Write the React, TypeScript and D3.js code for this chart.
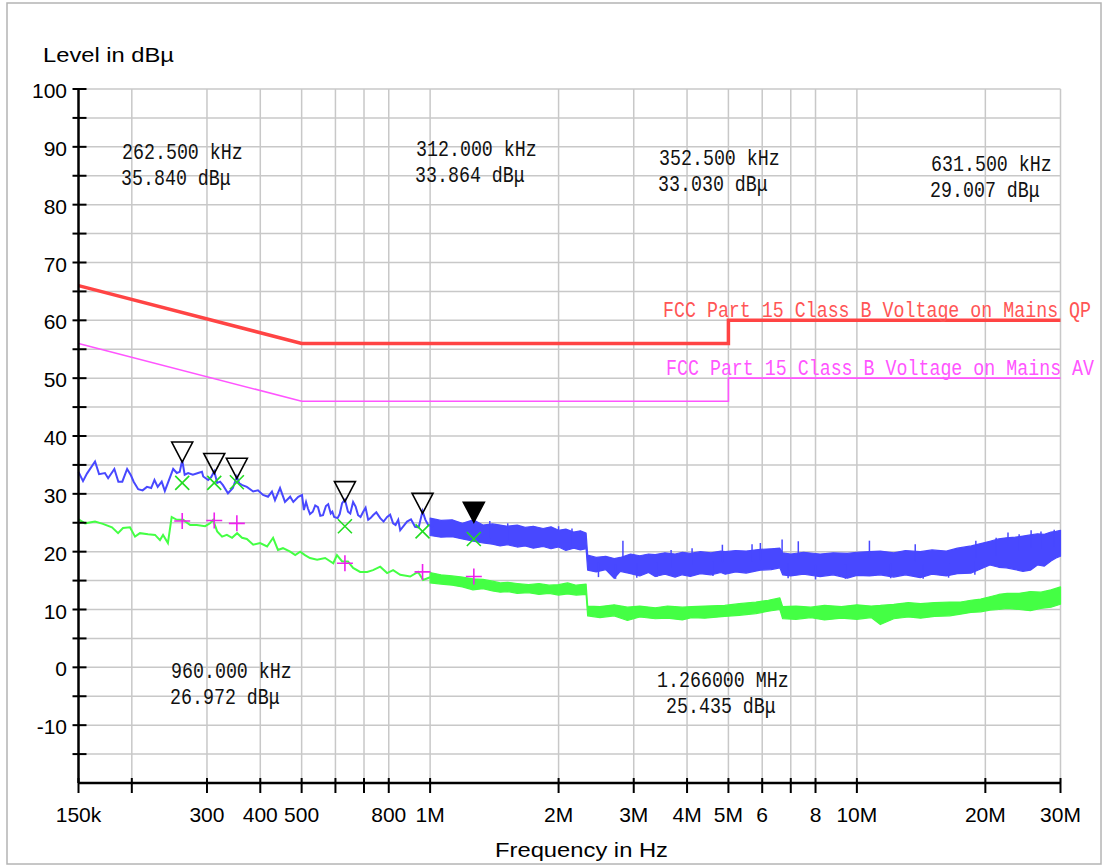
import React from 'react';
import * as d3 from 'd3';

// frequency in MHz, level in dBµV
const freqTicks = [0.15, 0.2, 0.3, 0.4, 0.5, 0.6, 0.7, 0.8, 1, 2, 3, 4, 5, 6, 7, 8, 10, 20, 30];
const freqTickLabels = ['150k', '', '300', '400', '500', '', '', '800', '1M', '2M', '3M', '4M', '5M', '6', '', '8', '10M', '20M', '30M'];
const levelTicks = [-15, -10, -5, 0, 5, 10, 15, 20, 25, 30, 35, 40, 45, 50, 55, 60, 65, 70, 75, 80, 85, 90, 95, 100];

const limitQP: [number, number][] = [[0.15, 66], [0.5, 56], [5, 56], [5, 60], [30, 60]];
const limitAV: [number, number][] = [[0.15, 56], [0.5, 46], [5, 46], [5, 50], [30, 50]];

// peak detector trace (blue), low-frequency part
const peakLine: [number, number][] = [
  [0.15, 33.8], [0.1537, 32.2], [0.157, 33.5], [0.164, 35.6], [0.1676, 33.4], [0.173, 33.6], [0.176, 32.7],
  [0.182, 34.3], [0.186, 32.1], [0.19, 32.1], [0.195, 34.3], [0.199, 33.2], [0.202, 32.1], [0.207, 30.8],
  [0.212, 30.6], [0.217, 31.2], [0.222, 31.0], [0.226, 32.4], [0.23, 31.2], [0.235, 32.1], [0.239, 30.5],
  [0.243, 31.9], [0.25, 34.3], [0.255, 33.6], [0.259, 33.8], [0.2625, 35.8], [0.266, 33.3], [0.271, 33.6],
  [0.278, 33.3], [0.286, 33.6], [0.292, 33.8], [0.294, 33.0], [0.302, 32.4], [0.307, 32.9], [0.312, 33.9],
  [0.317, 31.9], [0.322, 32.1], [0.327, 31.5], [0.336, 30.1], [0.345, 31.0], [0.3525, 33.0], [0.357, 31.8],
  [0.363, 31.5], [0.372, 31.2], [0.385, 30.4], [0.395, 30.6], [0.406, 29.8], [0.417, 29.5], [0.426, 30.4],
  [0.433, 28.9], [0.445, 31.0], [0.457, 28.6], [0.47, 29.5], [0.478, 28.6], [0.491, 29.5], [0.501, 29.8],
  [0.506, 27.2], [0.512, 28.6], [0.517, 27.5], [0.523, 26.5], [0.531, 26.9], [0.538, 28.0], [0.546, 27.7],
  [0.553, 26.2], [0.561, 26.3], [0.57, 27.9], [0.577, 28.2], [0.585, 26.6], [0.59, 26.9], [0.596, 26.0],
  [0.607, 25.8], [0.614, 26.5], [0.622, 28.4], [0.6315, 29.0], [0.642, 26.9], [0.65, 26.6], [0.66, 28.6],
  [0.669, 27.8], [0.678, 26.3], [0.687, 26.0], [0.697, 26.9], [0.706, 27.6], [0.716, 25.5], [0.725, 25.8],
  [0.735, 26.3], [0.748, 26.8], [0.764, 25.8], [0.778, 25.2], [0.793, 26.0], [0.806, 26.4], [0.819, 24.9],
  [0.83, 24.6], [0.842, 25.5], [0.851, 23.7], [0.866, 24.4], [0.883, 25.2], [0.902, 25.6], [0.922, 24.3],
  [0.94, 24.2], [0.96, 27.0], [0.975, 25.5], [0.99, 24.6], [1.016, 24.3],
];

// dense part of the blue trace: [freq, low edge, high edge]
const peakBand: [number, number, number][] = [
  [1.0, 22.8, 25.8], [1.06, 22.5, 25.4], [1.126, 22.6, 25.5], [1.19, 22.2, 24.9], [1.262, 21.8, 25.5],
  [1.33, 21.5, 24.6], [1.4, 21.3, 24.8], [1.459, 21.0, 24.6], [1.52, 21.2, 24.4], [1.6, 20.8, 24.6],
  [1.67, 21.0, 24.2], [1.745, 20.6, 24.4], [1.84, 20.9, 24.0], [1.92, 20.5, 24.3], [2.0, 20.8, 23.7],
  [2.08, 20.2, 23.9], [2.17, 20.6, 23.4], [2.25, 20.3, 23.6], [2.32, 20.5, 23.2], [2.34, 16.8, 19.4],
  [2.45, 16.5, 19.0], [2.58, 16.9, 19.2], [2.7, 15.4, 18.8], [2.79, 16.6, 19.0], [2.95, 16.2, 19.6],
  [3.1, 15.8, 19.3], [3.25, 16.4, 19.6], [3.368, 15.7, 19.5], [3.55, 16.1, 19.8], [3.75, 15.6, 19.6],
  [3.9, 16.0, 19.9], [4.07, 15.7, 19.7], [4.3, 16.2, 20.0], [4.55, 16.0, 19.8], [4.8, 16.4, 20.1],
  [4.915, 16.1, 20.0], [5.2, 16.5, 20.2], [5.5, 16.3, 20.1], [5.939, 16.8, 20.4], [6.3, 16.9, 20.5],
  [6.6, 17.2, 20.6], [6.7, 16.0, 19.8], [7.0, 15.8, 19.6], [7.5, 16.1, 19.9], [8.2, 15.7, 19.6],
  [8.8, 16.0, 19.8], [9.5, 15.4, 19.7], [10.0, 15.9, 19.9], [10.7, 15.8, 20.0], [11.35, 16.0, 20.1],
  [12.2, 15.6, 19.8], [13.0, 16.0, 20.2], [14.08, 15.5, 20.0], [15.0, 16.1, 20.3], [16.2, 15.8, 20.1],
  [17.2, 16.2, 20.6], [18.54, 16.3, 21.0], [19.5, 17.0, 21.4], [20.5, 17.7, 21.8], [21.5, 17.3, 22.2],
  [22.4, 17.2, 22.4], [23.5, 16.9, 22.5], [24.5, 16.6, 22.7], [25.5, 16.8, 22.9], [26.5, 17.7, 23.1],
  [27.5, 17.5, 23.0], [28.5, 18.4, 23.4], [29.3, 18.9, 23.5], [30, 19.2, 23.7],
];

const peakSpikes: [number, number][] = [
  [1.38, 25.3], [1.52, 24.9], [2.0, 24.4], [2.15, 24.0], [2.83, 21.9], [3.67, 20.3], [4.11, 20.6],
  [4.84, 21.2], [5.68, 21.3], [5.94, 21.5], [6.68, 22.1], [7.29, 21.8], [10.7, 21.9], [13.7, 21.3],
  [19.0, 21.9], [21.2, 22.4], [22.6, 23.3], [24.0, 23.0], [25.6, 23.7], [27.0, 23.5], [29.0, 23.8],
];
const peakDips: [number, number][] = [
  [2.48, 15.6], [2.72, 15.3], [3.05, 15.5], [3.4, 15.6], [4.6, 15.8], [6.9, 15.4], [8.0, 15.2],
  [9.4, 15.3], [12.0, 15.4], [14.3, 15.3], [16.4, 15.5], [18.9, 16.0],
];

// average detector trace (green)
const avgLine: [number, number][] = [
  [0.15, 25.6], [0.1554, 24.9], [0.164, 25.2], [0.1711, 24.8], [0.1797, 24.2], [0.1857, 23.2], [0.1907, 24.1],
  [0.198, 24.2], [0.2035, 22.6], [0.209, 23.2], [0.2183, 23.0], [0.2267, 22.9], [0.2328, 22.0], [0.2367, 22.9],
  [0.243, 21.5], [0.248, 26.0], [0.255, 25.5], [0.264, 25.5], [0.274, 24.6], [0.284, 24.6], [0.297, 24.4],
  [0.305, 24.9], [0.31, 25.5], [0.317, 23.5], [0.3255, 22.6], [0.334, 22.9], [0.3435, 22.4], [0.353, 23.2],
  [0.3625, 22.4], [0.372, 22.2], [0.385, 21.2], [0.3996, 21.5], [0.415, 20.9], [0.4286, 22.4], [0.44, 20.3],
  [0.452, 20.6], [0.47, 20.0], [0.483, 19.4], [0.496, 20.0], [0.509, 19.4], [0.523, 18.9], [0.5435, 18.6],
  [0.5675, 18.9], [0.593, 18.0], [0.605, 19.4], [0.622, 18.3], [0.642, 18.3], [0.66, 17.2], [0.6855, 16.5],
  [0.712, 16.5], [0.735, 16.8], [0.764, 17.4], [0.793, 16.3], [0.819, 16.8], [0.851, 16.0], [0.898, 15.7],
  [0.937, 16.5], [0.963, 15.1], [1.011, 15.7],
];

const avgBand: [number, number, number][] = [
  [1.0, 14.6, 16.4], [1.06, 14.4, 16.0], [1.126, 14.2, 15.8], [1.19, 13.9, 15.6], [1.26, 13.4, 15.3],
  [1.33, 13.6, 15.2], [1.4, 13.2, 14.9], [1.46, 13.0, 14.6], [1.52, 13.1, 14.7], [1.6, 12.8, 14.5],
  [1.7, 12.9, 14.3], [1.8, 12.6, 14.5], [1.9, 12.8, 14.2], [2.0, 12.5, 14.3], [2.1, 12.7, 14.6],
  [2.2, 12.5, 14.2], [2.32, 12.6, 14.4], [2.34, 8.9, 10.6], [2.5, 8.6, 10.5], [2.7, 8.9, 10.8],
  [2.9, 8.1, 10.4], [3.1, 8.7, 10.6], [3.37, 8.4, 10.3], [3.6, 8.5, 10.6], [3.9, 8.2, 10.4],
  [4.1, 8.6, 10.5], [4.4, 8.5, 10.6], [4.9, 8.8, 10.7], [5.3, 9.0, 11.0], [5.8, 9.3, 11.3],
  [6.2, 9.7, 11.6], [6.6, 10.0, 12.0], [6.7, 8.4, 10.5], [7.2, 8.3, 10.6], [7.8, 8.6, 10.4],
  [8.4, 8.2, 10.7], [9.2, 8.5, 10.5], [10.0, 8.3, 10.8], [10.8, 8.6, 10.6], [11.35, 7.4, 10.7],
  [12.2, 8.4, 10.9], [13.2, 8.7, 11.2], [14.1, 8.5, 11.0], [15.2, 8.8, 11.2], [16.5, 8.9, 11.3],
  [17.5, 9.2, 11.3], [18.5, 9.5, 11.6], [19.5, 9.6, 11.8], [20.5, 9.9, 12.2], [21.5, 10.0, 12.6],
  [22.5, 10.2, 12.8], [24.0, 10.0, 12.8], [25.5, 9.8, 13.1], [27, 10.2, 13.0], [28.5, 10.4, 13.4],
  [30, 10.9, 13.9],
];

// final measurement results
const markerFreqs = [0.2625, 0.312, 0.3525, 0.6315, 0.96, 1.266];
const markerPeaks = [35.84, 33.864, 33.03, 29.007, 26.972, 25.435];
const qpFinal = [31.9, 31.9, 32.0, 24.4, 23.5, 22.2];
const avFinal = [25.3, 25.4, 24.9, 18.0, 16.5, 15.7];

const notePos: [number, number][] = [[122, 159], [416, 156], [659, 165], [931, 171], [171, 678], [657, 687]];

const sans = '"Liberation Sans", Arial, sans-serif';
const mono = '"Liberation Mono", "Courier New", monospace';

const x = d3.scaleLog().domain([0.15, 30]).range([78.5, 1060.5]);
const y = d3.scaleLinear().domain([-20, 100]).range([783, 89]);

const fmtFreq = (f: number) => (f < 1 ? `${(f * 1000).toFixed(3)} kHz` : `${f.toFixed(6)} MHz`);

// narrow, tall monospace text (approximates the analyser's SimSun output)
const MonoText = ({ x0, y0, fill, children }: { x0: number; y0: number; fill: string; children: string }) => (
  <text transform={`translate(${x0},${y0}) scale(1,1.25)`} fontFamily={mono} fontSize={18.3} fill={fill}>
    {children}
  </text>
);

export default function App() {
  const line = d3.line<[number, number]>().x(d => x(d[0])).y(d => y(d[1]));
  const band = d3.area<[number, number, number]>().x(d => x(d[0])).y0(d => y(d[1])).y1(d => y(d[2]));
  const blue = '#4848ff';
  const green = '#44ff44';

  return (
    <svg width={1102} height={865} style={{ position: 'absolute', left: 0, top: 0, background: '#fff' }}>
      <rect x={7} y={3} width={1094} height={861} fill="#fff" stroke="#b4b4b4" strokeWidth={1.5} />

      {/* grid */}
      <g stroke="#c8c8c8" strokeWidth={1.5}>
        {freqTicks.slice(1).map(f => (
          <line key={'gx' + f} x1={x(f)} x2={x(f)} y1={y(100)} y2={y(-20)} />
        ))}
        {levelTicks.map(v => (
          <line key={'gy' + v} x1={x(0.15)} x2={x(30)} y1={y(v)} y2={y(v)} />
        ))}
      </g>

      {/* limit lines */}
      <path d={line(limitQP) || ''} fill="none" stroke="#ff4444" strokeWidth={3.5} />
      <path d={line(limitAV) || ''} fill="none" stroke="#ff55ff" strokeWidth={1.6} />
      <MonoText x0={663} y0={317} fill="#ff5555">FCC Part 15 Class B Voltage on Mains QP</MonoText>
      <MonoText x0={666} y0={375} fill="#ff55ff">FCC Part 15 Class B Voltage on Mains AV</MonoText>

      {/* average trace */}
      <path d={band(avgBand) || ''} fill={green} stroke={green} strokeWidth={1.2} strokeLinejoin="round" />
      <path d={line(avgLine) || ''} fill="none" stroke={green} strokeWidth={2} />

      {/* peak trace */}
      <path d={band(peakBand) || ''} fill={blue} stroke={blue} strokeWidth={1.2} strokeLinejoin="round" />
      <path d={line(peakLine) || ''} fill="none" stroke={blue} strokeWidth={2} />
      {peakSpikes.map(([f, v]) => (
        <line key={'sp' + f} x1={x(f)} x2={x(f)} y1={y(v)} y2={y(v - 3)} stroke={blue} strokeWidth={1.5} />
      ))}
      {peakDips.map(([f, v]) => (
        <line key={'dp' + f} x1={x(f)} x2={x(f)} y1={y(v)} y2={y(v + 2.5)} stroke={blue} strokeWidth={1.5} />
      ))}

      {/* markers */}
      {markerFreqs.map((f, i) => {
        const cx = x(f);
        const ty = y(markerPeaks[i]) + 2;
        const last = i === markerFreqs.length - 1;
        const qy = y(qpFinal[i]);
        const ay = y(avFinal[i]);
        return (
          <g key={'m' + f}>
            <path
              d={`M${cx},${ty} L${cx - 10.5},${ty - 20} L${cx + 10.5},${ty - 20} Z`}
              fill={last ? '#000' : '#fff'}
              fillOpacity={last ? 1 : 0}
              stroke="#000"
              strokeWidth={1.6}
            />
            <path
              d={`M${cx - 7},${qy - 7} L${cx + 7},${qy + 7} M${cx - 7},${qy + 7} L${cx + 7},${qy - 7}`}
              stroke="#22dd22"
              strokeWidth={1.6}
            />
            <path d={`M${cx - 8},${ay} L${cx + 8},${ay} M${cx},${ay - 8} L${cx},${ay + 8}`} stroke="#ee22ee" strokeWidth={1.6} />
          </g>
        );
      })}

      {/* marker notes */}
      {markerFreqs.map((f, i) => {
        const [nx, ny] = notePos[i];
        const dx2 = f < 1 ? -1 : 9;
        return (
          <g key={'n' + f}>
            <MonoText x0={nx} y0={ny} fill="#111">{fmtFreq(f)}</MonoText>
            <MonoText x0={nx + dx2} y0={ny + 26} fill="#111">{`${markerPeaks[i].toFixed(3)} dBμ`}</MonoText>
          </g>
        );
      })}

      {/* axes */}
      <g stroke="#000">
        <line x1={x(0.15)} x2={x(0.15)} y1={y(100)} y2={y(-20)} strokeWidth={2.5} />
        <line x1={x(0.15)} x2={x(30)} y1={y(-20)} y2={y(-20)} strokeWidth={2.5} />
        {levelTicks.map(v => (
          <line key={'ty' + v} x1={x(0.15) - 6} x2={x(0.15) + 8} y1={y(v)} y2={y(v)} strokeWidth={2} />
        ))}
        {freqTicks.map(f => (
          <line key={'tx' + f} x1={x(f)} x2={x(f)} y1={y(-20) - 5} y2={y(-20) + 10} strokeWidth={2} />
        ))}
      </g>
      <g fontFamily={sans} fontSize={21} fill="#000">
        {levelTicks.filter(v => v % 10 === 0).map(v => (
          <text key={'ly' + v} x={67} y={y(v) + 9} textAnchor="end">{v}</text>
        ))}
        {freqTicks.map((f, i) =>
          freqTickLabels[i] ? (
            <text key={'lx' + f} x={x(f)} y={822} textAnchor="middle">{freqTickLabels[i]}</text>
          ) : null
        )}
      </g>
      <text x={43} y={62} fontFamily={sans} fontSize={21} textLength={131} lengthAdjust="spacingAndGlyphs">Level in dBµ</text>
      <text x={495} y={857} fontFamily={sans} fontSize={21} textLength={173} lengthAdjust="spacingAndGlyphs">Frequency in Hz</text>
    </svg>
  );
}
